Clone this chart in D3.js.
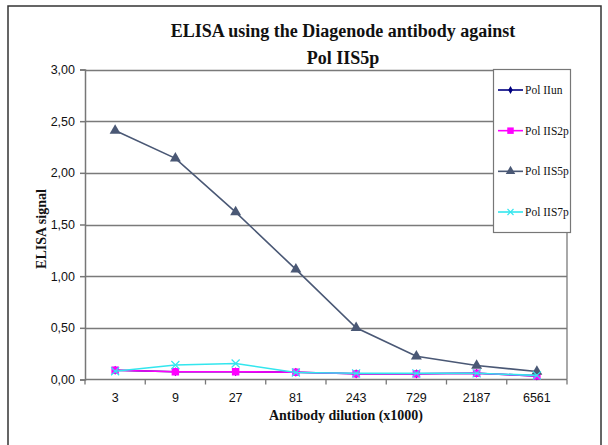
<!DOCTYPE html>
<html>
<head>
<meta charset="utf-8">
<script src="https://cdn.jsdelivr.net/npm/d3@7"></script>
<style>
  body { margin: 0; background: #fff; }
  svg { display: block; }
</style>
</head>
<body>
<svg id="chart" width="608" height="445"></svg>
<script>
const dilutions = ["3", "9", "27", "81", "243", "729", "2187", "6561"];
// Pol IIun is hidden under the Pol IIS2p markers in the picture
const polIIun = [0.09, 0.075, 0.075, 0.07, 0.055, 0.055, 0.06, 0.035];
const polIIS2p = [0.09, 0.075, 0.075, 0.07, 0.055, 0.055, 0.06, 0.035];
const polIIS5p = [2.41, 2.14, 1.62, 1.065, 0.5, 0.225, 0.135, 0.077];
const polIIS7p = [0.08, 0.14, 0.155, 0.068, 0.06, 0.06, 0.06, 0.04];
const yTicks = [0, 0.5, 1, 1.5, 2, 2.5, 3];

const series = [
  { name: "Pol IIun", values: polIIun, color: "#000080", shape: "diamond" },
  { name: "Pol IIS2p", values: polIIS2p, color: "#ff00ff", shape: "square" },
  { name: "Pol IIS5p", values: polIIS5p, color: "#4a5875", shape: "triangle" },
  { name: "Pol IIS7p", values: polIIS7p, color: "#33e6ee", shape: "cross" },
];

const svg = d3.select("#chart");
const plotLeft = 85, plotRight = 567, plotTop = 69.5, plotBottom = 379.5;
const serif = "'Liberation Serif', 'Times New Roman', serif";
const sans = "'Liberation Sans', Arial, sans-serif";

// outer frame
svg.append("rect")
  .attr("x", 8).attr("y", 6).attr("width", 593).attr("height", 460)
  .attr("fill", "none").attr("stroke", "#333").attr("stroke-width", 1.5);

const x = d3.scaleBand().domain(dilutions).range([plotLeft, plotRight]);
const y = d3.scaleLinear().domain([0, 3]).range([plotBottom, plotTop]);

// gridlines
svg.append("g")
  .selectAll("line")
  .data(yTicks.filter((d) => d > 0))
  .join("line")
  .attr("x1", plotLeft).attr("x2", plotRight)
  .attr("y1", (d) => Math.round(y(d)) + 0.5).attr("y2", (d) => Math.round(y(d)) + 0.5)
  .attr("stroke", "#7a7a7a").attr("stroke-width", 1.3);

// right edge of plot area
svg.append("line")
  .attr("x1", plotRight).attr("x2", plotRight).attr("y1", plotTop).attr("y2", plotBottom)
  .attr("stroke", "#7a7a7a").attr("stroke-width", 1.3);

// y axis
const yAxis = svg.append("g")
  .attr("transform", `translate(${plotLeft},0)`)
  .call(d3.axisLeft(y).tickValues(yTicks).tickSize(5).tickPadding(5)
    .tickFormat((d) => d3.format(".2f")(d).replace(".", ",")));
yAxis.selectAll("text").attr("font-family", sans).attr("font-size", 12.5).attr("fill", "#111");
yAxis.selectAll("line, path").attr("stroke", "#777").attr("stroke-width", 1.5);

// x axis with ticks at band boundaries
const xAxis = svg.append("g").attr("transform", `translate(0,${plotBottom})`);
xAxis.append("line")
  .attr("x1", plotLeft).attr("x2", plotRight)
  .attr("stroke", "#777").attr("stroke-width", 1.5);
xAxis.selectAll("line.tick")
  .data(d3.range(dilutions.length + 1))
  .join("line")
  .attr("class", "tick")
  .attr("x1", (i) => plotLeft + i * x.step()).attr("x2", (i) => plotLeft + i * x.step())
  .attr("y1", 0).attr("y2", 5)
  .attr("stroke", "#777").attr("stroke-width", 1.3);
xAxis.selectAll("text")
  .data(dilutions)
  .join("text")
  .attr("x", (d) => x(d) + x.bandwidth() / 2)
  .attr("y", 22)
  .attr("text-anchor", "middle")
  .attr("font-family", sans).attr("font-size", 12.5).attr("fill", "#111")
  .text((d) => d);

// titles
const title = svg.append("text")
  .attr("text-anchor", "middle")
  .attr("font-family", serif).attr("font-weight", "bold").attr("font-size", 18).attr("fill", "#111");
title.append("tspan").attr("x", 343).attr("y", 37).text("ELISA using the Diagenode antibody against");
title.append("tspan").attr("x", 343).attr("y", 64).text("Pol IIS5p");

svg.append("text")
  .attr("x", 346).attr("y", 420)
  .attr("text-anchor", "middle")
  .attr("font-family", serif).attr("font-weight", "bold").attr("font-size", 14).attr("fill", "#111")
  .text("Antibody dilution (x1000)");

svg.append("text")
  .attr("transform", "translate(46,229) rotate(-90)")
  .attr("text-anchor", "middle")
  .attr("font-family", serif).attr("font-weight", "bold").attr("font-size", 14).attr("fill", "#111")
  .text("ELISA signal");

// markers
function marker(sel, s, size) {
  if (s.shape === "cross") {
    sel.append("path")
      .attr("d", `M${-size},${-size}L${size},${size}M${-size},${size}L${size},${-size}`)
      .attr("stroke", s.color).attr("stroke-width", 1.2).attr("fill", "none");
    return;
  }
  const type = { diamond: d3.symbolDiamond, square: d3.symbolSquare, triangle: d3.symbolTriangle }[s.shape];
  const area = { diamond: 24, square: 56, triangle: 52 }[s.shape] * (size / 4);
  sel.append("path")
    .attr("d", d3.symbol().type(type).size(area)())
    .attr("fill", s.color);
}

const line = d3.line()
  .x((d, i) => x(dilutions[i]) + x.bandwidth() / 2)
  .y((d) => y(d));

series.forEach((s) => {
  const g = svg.append("g");
  g.append("path")
    .datum(s.values)
    .attr("d", line)
    .attr("fill", "none")
    .attr("stroke", s.color)
    .attr("stroke-width", 1.6);
  g.selectAll("g.pt")
    .data(s.values)
    .join("g")
    .attr("class", "pt")
    .attr("transform", (d, i) => `translate(${x(dilutions[i]) + x.bandwidth() / 2},${y(d)})`)
    .each(function () { marker(d3.select(this), s, 4); });
});

// legend
const legend = svg.append("g");
legend.append("rect")
  .attr("x", 493.5).attr("y", 69.5).attr("width", 77).attr("height", 163)
  .attr("fill", "#fff").attr("stroke", "#777").attr("stroke-width", 1.2);
const legendY = d3.scalePoint().domain(series.map((s) => s.name)).range([90, 212]);
series.forEach((s) => {
  const g = legend.append("g").attr("transform", `translate(0,${legendY(s.name)})`);
  g.append("line")
    .attr("x1", 498).attr("x2", 523)
    .attr("stroke", s.color).attr("stroke-width", 1.6);
  g.append("g").attr("transform", "translate(510.5,0)").call((sel) => marker(sel, s, 3));
  g.append("text")
    .attr("x", 525).attr("y", 4)
    .attr("font-family", serif).attr("font-size", 11.5).attr("fill", "#111")
    .text(s.name);
});
</script>
</body>
</html>
